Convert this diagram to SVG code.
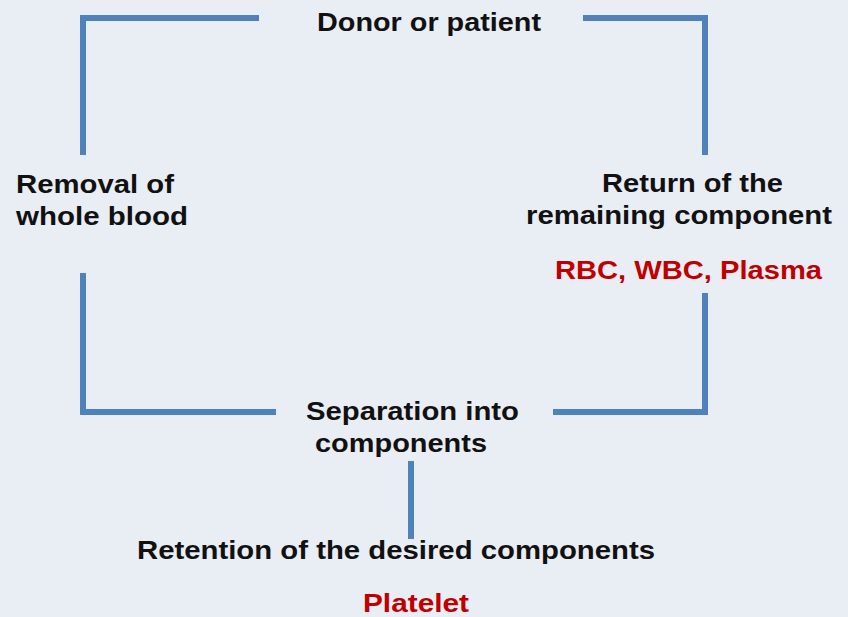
<svg xmlns="http://www.w3.org/2000/svg" width="848" height="617" viewBox="0 0 848 617">
<style>
.bg{fill:#E9EEF5}
.c{fill:none;stroke:#4F81BD;stroke-width:6;stroke-linejoin:miter;stroke-linecap:butt}
text{font-family:"Liberation Sans",Arial,sans-serif;font-weight:bold;font-size:26px}
.k{fill:#111111}
.r{fill:#C00000}
</style>
<rect class="bg" x="0" y="0" width="848" height="617"/>
<g id="connectors">
<path class="c" d="M259,18 H83 V155"/>
<path class="c" d="M583,18 H705 V155"/>
<path class="c" d="M83,273 V412 H276"/>
<path class="c" d="M553,412 H705 V293"/>
<path class="c" d="M411,461 V539"/>
</g>
<g id="donor">
<text class="k" x="317" y="31" textLength="224" lengthAdjust="spacingAndGlyphs">Donor or patient</text>
</g>
<g id="removal">
<text class="k" x="16" y="193" textLength="158" lengthAdjust="spacingAndGlyphs">Removal of</text>
<text class="k" x="16" y="225" textLength="172" lengthAdjust="spacingAndGlyphs">whole blood</text>
</g>
<g id="return">
<text class="k" x="602" y="192" textLength="181" lengthAdjust="spacingAndGlyphs">Return of the</text>
<text class="k" x="526" y="224" textLength="306" lengthAdjust="spacingAndGlyphs">remaining component</text>
<text class="r" x="555" y="279" textLength="267" lengthAdjust="spacingAndGlyphs">RBC, WBC, Plasma</text>
</g>
<g id="separation">
<text class="k" x="306" y="420" textLength="213" lengthAdjust="spacingAndGlyphs">Separation into</text>
<text class="k" x="315" y="452" textLength="172" lengthAdjust="spacingAndGlyphs">components</text>
</g>
<g id="retention">
<text class="k" x="137" y="559" textLength="518" lengthAdjust="spacingAndGlyphs">Retention of the desired components</text>
<text class="r" x="363" y="612" textLength="106" lengthAdjust="spacingAndGlyphs">Platelet</text>
</g>
</svg>
